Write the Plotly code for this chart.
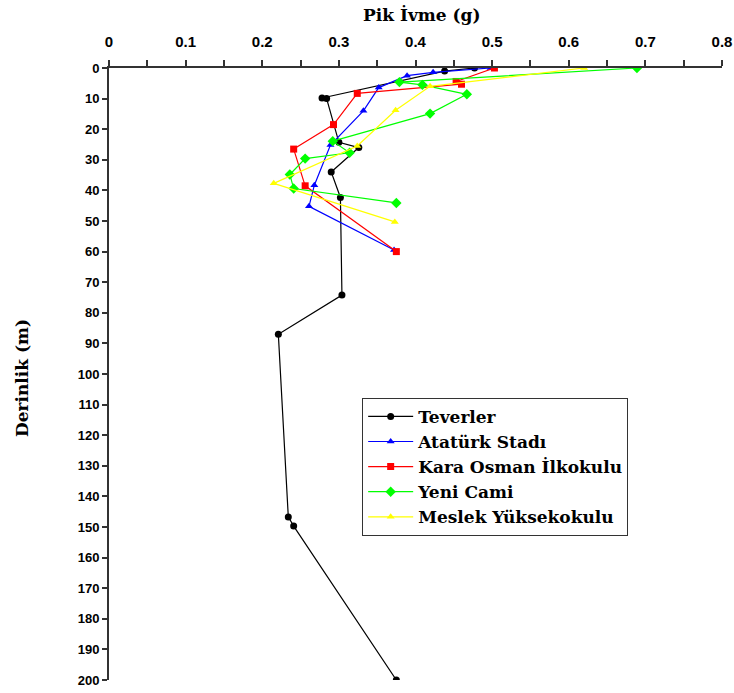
import plotly.graph_objects as go

# Data (x: Pik İvme (g), y: Derinlik (m))
tev_x = [0.477, 0.438, 0.278, 0.284, 0.300, 0.326, 0.290, 0.302, 0.304, 0.221, 0.234, 0.241, 0.375]
tev_d = [0, 1, 9.8, 10.0, 24.3, 26.0, 34.0, 42.3, 74.2, 87.0, 146.7, 149.7, 200]

ata_x = [0.498, 0.423, 0.389, 0.352, 0.332, 0.289, 0.268, 0.261, 0.372]
ata_d = [0, 1.4, 2.5, 6.4, 14.0, 25.2, 38.3, 45.2, 59.5]

kara_x = [0.503, 0.453, 0.460, 0.324, 0.293, 0.241, 0.256, 0.375]
kara_d = [0, 4.4, 5.3, 8.3, 18.5, 26.5, 38.5, 60]

yeni_x = [0.689, 0.379, 0.409, 0.467, 0.419, 0.292, 0.314, 0.256, 0.236, 0.241, 0.375]
yeni_d = [0, 4.6, 5.5, 8.6, 14.9, 23.9, 27.7, 29.6, 34.8, 39.4, 44.1]

mes_x = [0.620, 0.419, 0.374, 0.324, 0.215, 0.373]
mes_d = [0, 6.0, 13.8, 25.5, 37.7, 50.3]

names = ["Teverler", "Atatürk Stadı", "Kara Osman İlkokulu", "Yeni Cami", "Meslek Yüksekokulu"]
xs = [tev_x, ata_x, kara_x, yeni_x, mes_x]
ds = [tev_d, ata_d, kara_d, yeni_d, mes_d]
colors = ["#000000", "#0000FF", "#FF0000", "#00FF00", "#FFFF00"]
symbols = ["circle", "triangle-up", "square", "diamond", "triangle-up"]
sizes = [7, 7, 7, 8, 7]

fig = go.Figure()
for n, x, d, c, s, sz in zip(names, xs, ds, colors, symbols, sizes):
    fig.add_trace(go.Scatter(
        x=x, y=d, name=n, mode="lines+markers",
        line=dict(color=c, width=1.2),
        marker=dict(color=c, symbol=s, size=sz),
    ))

serif = "DejaVu Serif, Liberation Serif, serif"
sans = "Liberation Sans, Arial, sans-serif"

fig.update_layout(
    width=734, height=693,
    margin=dict(l=109, r=12, t=68, b=13),
    paper_bgcolor="white", plot_bgcolor="white",
    showlegend=True,
    legend=dict(
        x=0.413, y=0.461, xanchor="left", yanchor="top",
        bgcolor="white", bordercolor="#333333", borderwidth=1,
        font=dict(family=serif, size=17, color="black", weight="bold"),
        itemwidth=45, tracegroupgap=0,
    ),
    xaxis=dict(
        side="top", range=[0, 0.8], dtick=0.1, tick0=0, automargin=False,
        showgrid=False, zeroline=False,
        showline=True, linecolor="#333333", linewidth=2,
        ticks="outside", ticklen=6, tickwidth=1.5, tickcolor="#333333",
        minor=dict(dtick=0.05, ticks="outside", ticklen=6, tickwidth=1.5, tickcolor="#333333"),
        tickformat=".1~f", ticklabelstandoff=7,
        tickfont=dict(family="Liberation Sans Narrow, " + sans, size=15, color="black", weight="bold"),
    ),
    yaxis=dict(
        range=[200, 0], dtick=10, tick0=0, automargin=False,
        showgrid=False, zeroline=False,
        showline=True, linecolor="#333333", linewidth=2,
        ticks="outside", ticklen=5, tickwidth=1.5, tickcolor="#333333",
        tickfont=dict(family=sans, size=13, color="black", weight="bold"),
    ),
    annotations=[
        dict(text="Pik İvme (g)", xref="paper", yref="paper", x=(422 - 109) / 613, y=1.0,
             yshift=53, xanchor="center", yanchor="middle", showarrow=False,
             font=dict(family=serif, size=17, color="black", weight="bold")),
        dict(text="Derinlik (m)", xref="paper", yref="paper", x=0, xshift=-87, y=(680 - 378) / 612,
             xanchor="center", yanchor="middle", textangle=-90, showarrow=False,
             font=dict(family=serif, size=17, color="black", weight="bold")),
    ],
)

fig.write_html("out.html")
